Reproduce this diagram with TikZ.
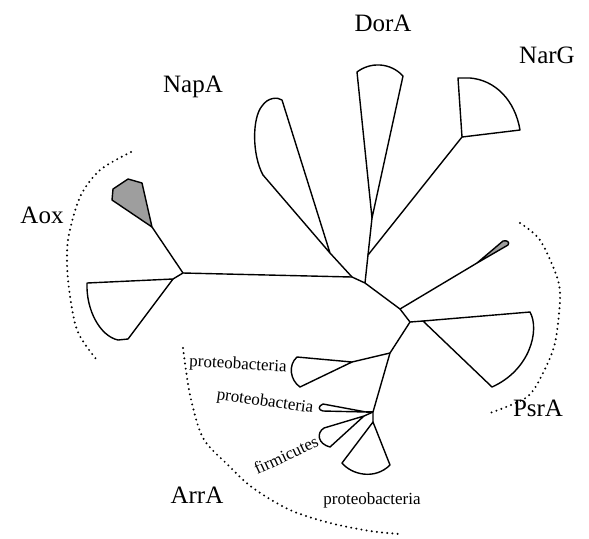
\documentclass[tikz,border=0pt]{standalone}
\usepackage{fontspec}
\setmainfont{Liberation Serif}

\begin{document}
\begin{tikzpicture}[x=0.5pt,y=-0.5pt,line join=round,
  branch/.style={line width=0.7pt},
  clade/.style={line width=0.7pt,fill=white},
  greyclade/.style={line width=0.7pt,fill=black!38},
  group/.style={font=\fontsize{12.5}{14}\selectfont},
  taxon/.style={font=\fontsize{8.5}{10}\selectfont},
  grouparc/.style={line width=1.1pt,dash pattern=on 0pt off 2.6pt,line cap=round}]
  \useasboundingbox (0,0) rectangle (589,538);
  % inner junctions of the tree (pixel units, y downwards)
  \coordinate (aox)  at (183,273);
  \coordinate (napj) at (352,277);
  \coordinate (ctr)  at (365,283);
  \coordinate (dorj) at (368,255);
  \coordinate (psrj) at (400,309);
  \coordinate (psrc) at (410,322);
  \coordinate (arr1) at (390,353);
  \coordinate (arr2) at (373,412);
  % roots of the collapsed clades
  \coordinate (aoxg) at (152,227);
  \coordinate (aoxw) at (173,279);
  \coordinate (napw) at (330,253);
  \coordinate (dorw) at (372,218);
  \coordinate (narw) at (462,137);
  \coordinate (psrg) at (477,263);
  \coordinate (psrw) at (423,321);
  \coordinate (arrw1) at (352,362);
  \coordinate (arrw2) at (366,412);
  \coordinate (arrw3) at (364,416);
  \coordinate (arrw4) at (373,422);
  % branches
  \draw[branch] (aoxg) -- (aox) -- (napj) -- (ctr) -- (psrj) -- (psrc) -- (arr1) -- (arr2) -- (arrw4);
  \draw[branch] (aox) -- (aoxw);
  \draw[branch] (napw) -- (napj);
  \draw[branch] (ctr) -- (dorj) -- (dorw);
  \draw[branch] (dorj) -- (narw);
  \draw[branch] (psrj) -- (psrg);
  \draw[branch] (psrc) -- (psrw);
  \draw[branch] (arr1) -- (arrw1);
  \draw[branch] (arr2) -- (arrw2);
  \draw[branch] (arr2) -- (arrw3);
  % clades
  \draw[greyclade] (aoxg) -- (112,200) -- (113,189) -- (128,179) -- (142,183) -- cycle;
  \draw[clade] (aoxw) -- (87,283) .. controls (86,310) and (100,336) .. (118,340) -- (128,339) -- cycle;
  \draw[clade] (napw) -- (263,175) .. controls (252,155) and (252,118) .. (262,106)
    .. controls (268,97) and (278,97) .. (282,100) -- cycle;
  \draw[clade] (dorw) -- (357,72) .. controls (370,62) and (390,62) .. (403,76) -- cycle;
  \draw[clade] (narw) -- (458,78) -- (470,78) .. controls (495,80) and (515,100) .. (520,130) -- cycle;
  \draw[greyclade] (psrg) -- (503,241) .. controls (507,240) and (510,242) .. (508,245) -- cycle;
  \draw[clade] (psrw) -- (530,312) .. controls (540,330) and (530,370) .. (492,387) -- cycle;
  \draw[clade] (arrw1) -- (297,357) .. controls (288,365) and (290,380) .. (300,387) -- cycle;
  \draw[clade] (arrw2) -- (323,404) .. controls (318,406) and (318,410) .. (323,411) -- cycle;
  \draw[clade] (arrw3) -- (324,428) .. controls (316,433) and (318,444) .. (330,447) -- cycle;
  \draw[clade] (arrw4) -- (342,463) .. controls (352,475) and (375,480) .. (390,465) -- cycle;
  % group ranges
  \draw[grouparc] plot[smooth] coordinates {(131,152) (100,170) (80,197) (68,240) (68,280) (77,330) (97,360)};
  \draw[grouparc] plot[smooth] coordinates {(520,223) (540,240) (557,277) (560,300) (555,343) (543,373) (527,397) (490,413)};
  \draw[grouparc] plot[smooth] coordinates {(183,348) (190,395) (203,438) (228,465) (253,488) (290,510) (330,523) (370,531) (400,534)};
  % labels
  \node[group] (dora) at (383,23) {DorA};
  \node[group] (narg) at (547,55) {NarG};
  \node[group] (napa) at (193,87) {NapA};
  \node[group] (aoxl) at (42,215) {Aox};
  \node[group] (psra) at (538,408) {PsrA};
  \node[group] (arra) at (197,495) {ArrA};
  \node[taxon,rotate=-3] (prot1) at (238,365) {proteobacteria};
  \node[taxon,rotate=-8] (prot2) at (265,402) {proteobacteria};
  \node[taxon,rotate=25,inner sep=1pt] (firm) at (286,455) {firmicutes};
  \node[taxon] (prot3) at (372,500) {proteobacteria};
\end{tikzpicture}
\end{document}
